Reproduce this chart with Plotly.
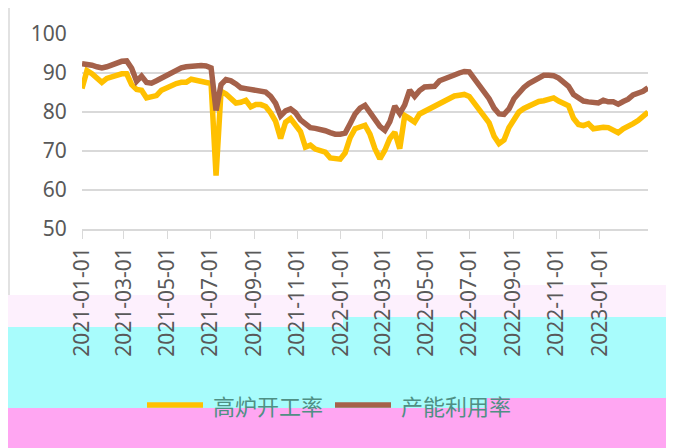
import pandas as pd
import plotly.graph_objects as go

# weekly readings (Fridays), starting 2021-01-01
start_date = "2021-01-01"
n_weeks = 115

blast_furnace_rate = [
    86.0, 90.6, 89.8, 88.8, 87.6, 88.6, 89.1, 89.5, 89.8, 89.8,
    87.0, 85.8, 85.6, 83.6, 84.0, 84.2, 85.6, 86.3, 86.9, 87.3,
    87.6, 87.6, 88.4, 88.2, 87.7, 87.6, 87.3, 63.7, 85.3, 84.6,
    83.6, 82.3, 82.5, 83.0, 81.3, 81.9, 81.9, 81.4, 79.8, 77.6,
    73.2, 77.4, 78.3, 76.8, 75.0, 71.0, 71.5, 70.5, 70.0, 69.7,
    68.2, 68.0, 67.9, 69.5, 73.4, 75.7, 76.3, 76.6, 74.3, 70.6,
    68.0, 70.2, 73.2, 74.8, 70.6, 79.1, 78.3, 77.4, 79.5, 80.2,
    80.7, 81.6, 82.3, 83.0, 83.5, 84.1, 84.3, 84.5, 84.0, 82.2,
    80.9, 79.2, 77.2, 73.8, 71.9, 72.8, 76.0, 78.0, 80.0, 80.9,
    81.6, 82.2, 82.7, 82.9, 83.1, 83.6, 82.8, 82.2, 81.6, 78.4,
    76.8, 76.5, 77.0, 75.7, 76.0, 76.1, 76.0, 75.3, 74.7, 75.7,
    76.2, 77.0, 77.8, 78.8, 80.0,
]

capacity_utilization = [
    92.4, 92.3, 92.0, 91.6, 91.3, 91.6, 92.1, 92.6, 93.0, 93.1,
    91.2, 87.9, 89.2, 87.6, 87.4, 88.0, 88.7, 89.5, 90.3, 91.0,
    91.3, 91.6, 91.7, 92.0, 91.9, 91.8, 91.3, 80.4, 87.0, 88.3,
    88.0, 87.2, 86.2, 86.0, 85.8, 85.6, 85.5, 85.1, 84.0, 82.2,
    79.0, 80.3, 80.8, 79.8, 78.0, 76.8, 76.0, 75.8, 75.6, 75.2,
    74.7, 74.3, 74.3, 74.6, 77.0, 79.5, 81.0, 81.7, 79.9, 78.1,
    76.3, 75.3, 77.5, 81.5, 79.6, 81.8, 85.6, 84.0, 85.5, 86.4,
    86.5, 86.6, 88.0, 88.4, 88.9, 89.5, 90.0, 90.4, 90.3, 88.6,
    87.0, 85.3, 83.4, 81.0, 79.5, 79.4, 80.8, 83.4, 85.0, 86.3,
    87.3, 88.0, 88.8, 89.4, 89.4, 89.3, 88.7, 87.8, 86.6, 84.5,
    83.5, 82.8, 82.6, 82.3, 82.3, 83.0, 82.6, 82.6, 82.0, 82.7,
    83.3, 84.4, 84.7, 85.3, 86.2,
]

tick_labels = [
    "2021-01-01", "2021-03-01", "2021-05-01", "2021-07-01", "2021-09-01",
    "2021-11-01", "2022-01-01", "2022-03-01", "2022-05-01", "2022-07-01",
    "2022-09-01", "2022-11-01", "2023-01-01",
]

series_names = ["高炉开工率", "产能利用率"]
series_colors = ["#FFC000", "#A5614A"]

dates = pd.date_range(start_date, periods=n_weeks, freq="7D")

fig = go.Figure()
for name, values, color in zip(series_names,
                               [blast_furnace_rate, capacity_utilization],
                               series_colors):
    fig.add_trace(go.Scatter(x=dates, y=values, name=name, mode="lines",
                             line=dict(color=color, width=5.5), showlegend=False))


# page pixel -> paper coords (plot area spans x 82..648, y 34..229 on the page)
def px_x(p):
    return (p - 82) / 566


def px_y(p):
    return (229 - p) / 195


# chart frame and the coloured bands seen in the lower part of the picture
shapes = [
    dict(x0=9, x1=667, y0=5, y1=440, color=None),
    dict(x0=5, x1=674, y0=295, y1=327, color="#FDF0FD"),
    dict(x0=515, x1=674, y0=285, y1=317, color="#FDF0FD"),
    dict(x0=5, x1=343, y0=327, y1=408, color="#A8FCFC"),
    dict(x0=343, x1=674, y0=317, y1=408, color="#A8FCFC"),
    dict(x0=5, x1=674, y0=408, y1=448, color="#FFA6F2"),
    dict(x0=487, x1=674, y0=398, y1=408, color="#FFA6F2"),
]
for s in shapes:
    fig.add_shape(type="rect", xref="paper", yref="paper", layer="below",
                  x0=px_x(s["x0"]), x1=px_x(s["x1"]),
                  y0=px_y(s["y1"]), y1=px_y(s["y0"]),
                  fillcolor=s["color"] or "rgba(0,0,0,0)",
                  line=dict(width=0 if s["color"] else 1.5, color="#d9d9d9"))

# legend drawn by hand: long line swatch then the series name
legend_y = 405
for name, color, x_line in zip(series_names, series_colors, [147, 335]):
    fig.add_shape(type="line", xref="paper", yref="paper",
                  x0=px_x(x_line), x1=px_x(x_line + 56),
                  y0=px_y(legend_y), y1=px_y(legend_y),
                  line=dict(color=color, width=5.5))
    fig.add_annotation(text=name, xref="paper", yref="paper", showarrow=False,
                       x=px_x(x_line + 64), y=px_y(legend_y),
                       xanchor="left", yanchor="middle",
                       font=dict(size=22, family="Noto Sans CJK SC", color="#4f8f84"))

# the page body adds an 8px margin, so the figure is 8px smaller each way
fig.update_layout(
    width=666, height=440,
    margin=dict(l=74, r=26, t=26, b=219),
    plot_bgcolor="white", paper_bgcolor="white",
    font=dict(family="Noto Sans, Noto Sans CJK SC", color="#595959"),
)

fig.update_yaxes(range=[50, 100], dtick=10, showgrid=True, gridcolor="#d9d9d9",
                 gridwidth=1.5, zeroline=False, showline=False,
                 tickfont=dict(size=21), ticks="outside", ticklen=10,
                 tickcolor="rgba(0,0,0,0)")
fig.update_xaxes(range=["2021-01-01", "2023-03-10"],
                 tickvals=pd.to_datetime(tick_labels), ticktext=tick_labels,
                 tickangle=-90, showgrid=False,
                 showline=True, linecolor="#d9d9d9", linewidth=1.5,
                 ticks="outside", ticklen=8, tickcolor="#d9d9d9",
                 tickfont=dict(size=21))

fig.write_html("out.html")
